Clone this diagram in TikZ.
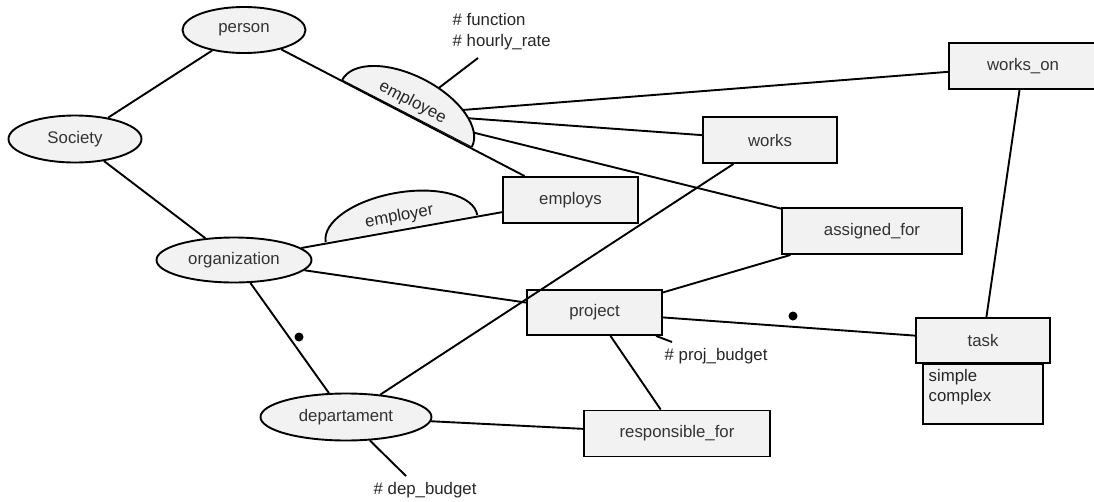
\documentclass[tikz,border=0pt]{standalone}
\usepackage{fontspec}
\setmainfont{Liberation Sans}
\usetikzlibrary{shapes.geometric}
\tikzset{
ent/.style={draw,ellipse,fill=black!5,line width=1.9pt,inner sep=0pt,text=black!80},
rel/.style={draw,rectangle,fill=black!5,line width=1.9pt,inner sep=0pt,text=black!80},
lnk/.style={line width=1.9pt},
lbl/.style={inner sep=0pt,text=black!85},
dot/.style={circle,fill=black,inner sep=0pt,minimum size=9pt}
}
\begin{document}
\begin{tikzpicture}[x=1pt,y=1pt,font=\fontsize{16.8}{20.5}\selectfont]
\useasboundingbox (0,0) rectangle (1094,-501);
\node [ent,minimum width=123,minimum height=46] (per) at (244,-30) {person};
\node [ent,minimum width=133,minimum height=47] (soc) at (75,-139) {Society};
\node [ent,minimum width=155,minimum height=45] (org) at (234,-260) {organization};
\node [ent,minimum width=171,minimum height=47] (dep) at (346,-417) {departament};
\node [rel,minimum width=148,minimum height=46] (won) at (1023,-66) {works\_on};
\node [rel,minimum width=134,minimum height=46] (wrk) at (770,-140) {works};
\node [rel,minimum width=135,minimum height=46] (emps) at (570.5,-200) {employs};
\node [rel,minimum width=180,minimum height=46] (asg) at (872,-231) {assigned\_for};
\node [rel,minimum width=135,minimum height=45] (proj) at (594.5,-312.5) {project};
\node [rel,minimum width=186,minimum height=46] (resp) at (677,-433.5) {responsible\_for};
\node [rel,minimum width=120,minimum height=60,anchor=north] (sub) at (983,-363) {};
\node [lbl,align=left,anchor=west] (kinds) at (928.5,-387) {simple\\complex};
\node [rel,minimum width=134,minimum height=45] (task) at (983,-340.5) {task};
\coordinate (fn) at (478,-58);
\coordinate (pb) at (672,-342);
\coordinate (db) at (406,-476);
\node [lbl,align=left,anchor=west] (fnl) at (452.5,-31.5) {\# function\\\# hourly\_rate};
\node [lbl,anchor=west] (pbl) at (664.5,-356) {\# proj\_budget};
\node [lbl,anchor=west] (dbl) at (373.5,-490) {\# dep\_budget};
\draw [lnk] (soc) -- (per);
\draw [lnk] (soc) -- (org);
\draw [lnk] (per) -- (emps);
\draw [lnk] (org) -- (proj);
\draw [lnk] (org) -- (dep);
\draw [lnk] (dep) -- (wrk);
\draw [lnk] (dep) -- (resp);
\draw [lnk] (dep) -- (db);
\draw [lnk] (proj) -- (resp);
\draw [lnk] (proj) -- (asg);
\draw [lnk] (proj) -- (task);
\draw [lnk] (proj) -- (pb);
\draw [lnk] (won) -- (task);
\begin{scope}[shift={(407,-113.5)},rotate=-27.3]
\fill [black!5] (-73,0) arc [start angle=180,end angle=0,x radius=73,y radius=38] -- cycle;
\draw [line width=0.9pt] (-73,0) -- (73,0);
\draw [lnk] (-73,0) arc [start angle=180,end angle=0,x radius=73,y radius=38];
\node [lbl,rotate=-27.3] (empl) at (0,12) {employee};
\coordinate (eo1) at (49:73 and 38);
\coordinate (eo2) at (39:73 and 38);
\coordinate (eo3) at (21:73 and 38);
\coordinate (eo4) at (77:73 and 38);
\end{scope}
\begin{scope}[shift={(401.5,-228.5)},rotate=10.1]
\fill [black!5] (-77,0) arc [start angle=180,end angle=0,x radius=77,y radius=36] -- cycle;
\draw [lnk] (-77,0) arc [start angle=180,end angle=0,x radius=77,y radius=36];
\node [lbl,rotate=10.1] (emplr) at (0,12) {employer};
\end{scope}
\draw [lnk] (org) -- (emps);
\draw [lnk] (eo1) -- (won);
\draw [lnk] (eo2) -- (wrk);
\draw [lnk] (eo3) -- (asg);
\draw [lnk] (eo4) -- (fn);
\node [dot] (d1) at (299,-337) {};
\node [dot] (d2) at (793,-316) {};
\end{tikzpicture}
\end{document}
